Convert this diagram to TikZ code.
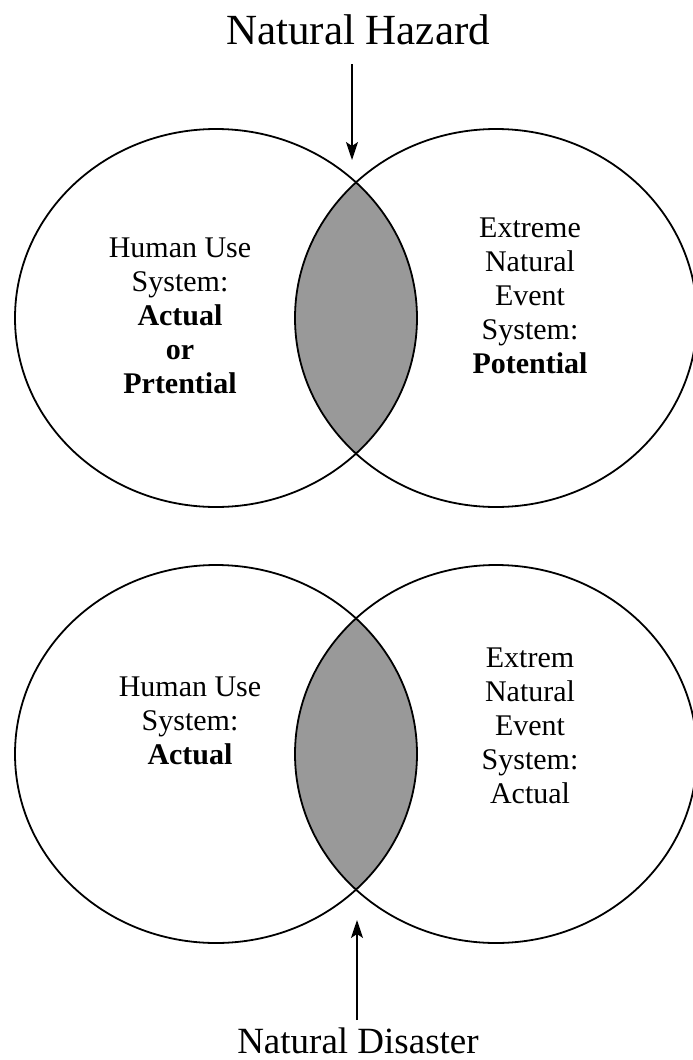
\documentclass[tikz,border=0pt]{standalone}
\usepackage{fontspec}
\setmainfont{Liberation Serif}
\usetikzlibrary{arrows.meta}
\begin{document}
\begin{tikzpicture}[x=0.5pt,y=-0.5pt,
  outline/.style={draw=black,line width=0.9pt},
  lensfill/.style={fill=black!40},
  title/.style={font=\fontsize{21.5}{24}\selectfont,inner sep=0pt},
  subtitle/.style={font=\fontsize{18.5}{21}\selectfont,inner sep=0pt},
  label/.style={font=\fontsize{15}{17}\selectfont,align=center,inner sep=0pt},
  pointer/.style={line width=0.7pt,-{Stealth[length=9pt,width=6pt,inset=2pt]}}]
\useasboundingbox (0,0) rectangle (692,1060);
\fill[white] (0,0) rectangle (692,1060);
% top pair
\begin{scope}
  \clip (216,318) ellipse [x radius=201, y radius=189];
  \fill[lensfill] (496,318) ellipse [x radius=201, y radius=189];
\end{scope}
\draw[outline] (216,318) ellipse [x radius=201, y radius=189];
\draw[outline] (496,318) ellipse [x radius=201, y radius=189];
% bottom pair
\begin{scope}
  \clip (216,754) ellipse [x radius=201, y radius=189];
  \fill[lensfill] (496,754) ellipse [x radius=201, y radius=189];
\end{scope}
\draw[outline] (216,754) ellipse [x radius=201, y radius=189];
\draw[outline] (496,754) ellipse [x radius=201, y radius=189];
% titles
\node[title,anchor=base] (hazard) at (358,44) {Natural Hazard};
\node[subtitle,anchor=base] (disaster) at (358,1053) {Natural Disaster};
\coordinate (hazTail) at (352,64);
\coordinate (hazTip) at (352,160);
\coordinate (disTail) at (357,1020);
\coordinate (disTip) at (357,920);
\draw[pointer] (hazTail) -- (hazTip);
\draw[pointer] (disTail) -- (disTip);
% labels
\node[label] (humanA) at (180,316) {Human Use\\System:\\\textbf{Actual}\\\textbf{or}\\\textbf{Prtential}};
\node[label] (extremeA) at (530,296) {Extreme\\Natural\\Event\\System:\\\textbf{Potential}};
\node[label] (humanB) at (190,721) {Human Use\\System:\\\textbf{Actual}};
\node[label] (extremeB) at (530,726) {Extrem\\Natural\\Event\\System:\\Actual};
\end{tikzpicture}
\end{document}
